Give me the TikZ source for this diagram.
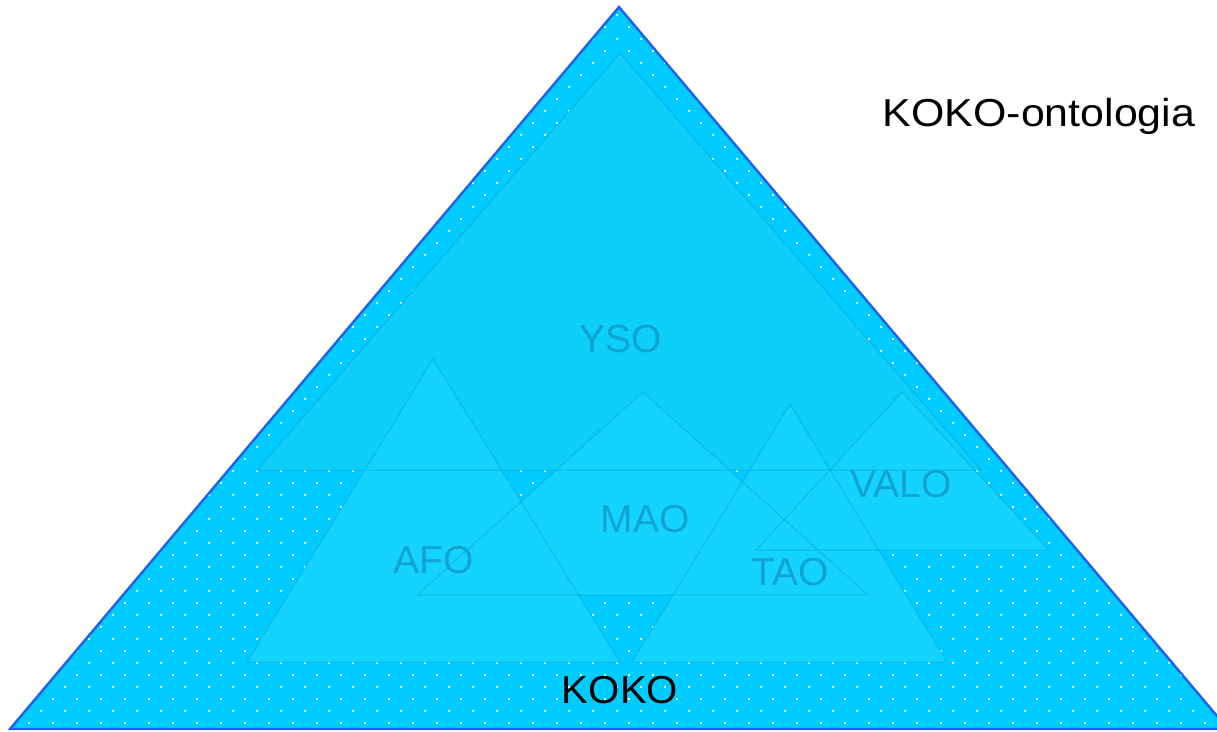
\documentclass[tikz,border=0pt]{standalone}
\usepackage{fontspec}
\setmainfont{Liberation Sans}
\definecolor{kokofill}{HTML}{00CCFF}
\definecolor{kokoline}{HTML}{2060F0}
\definecolor{ysofill}{HTML}{0ECEFA}
\definecolor{subfill}{HTML}{14D4FF}
\definecolor{subline}{HTML}{0AA4D6}
\definecolor{sublabel}{HTML}{129FCC}
\tikzset{
  subfillst/.style={fill=subfill},
  subedge/.style={draw=subline, draw opacity=0.6, line width=1pt, line join=miter},
  sublbl/.style={anchor=base, inner sep=0pt, text=sublabel, text opacity=0.9, font=\fontsize{39}{40}\selectfont},
  mainlbl/.style={anchor=base, inner sep=0pt, text=black, font=\fontsize{39}{40}\selectfont}
}
\begin{document}
\begin{tikzpicture}[x=1pt,y=-1pt]
\useasboundingbox (0,0) rectangle (1217,731);
\clip (0,0) rectangle (1217,731);
% outer KOKO triangle
\fill[kokofill] (619,7) -- (10,729) -- (1228,729) -- cycle;
\begin{scope}
\clip (619,7) -- (10,729) -- (1228,729) -- cycle;
\foreach \k in {0,...,59}{
  \pgfmathsetmacro\yy{14.6+12*\k}
  \pgfmathsetmacro\xo{mod(616.6+12*\k,24)}
  \foreach \m in {0,...,51}{
    \fill[white] (\xo+24*\m-1,\yy-1) rectangle +(2,2);
  }
}
\end{scope}
\draw[kokoline, line width=2.4pt, line join=miter] (619,7) -- (10,729) -- (1228,729) -- cycle;
% sub-ontologies: fills
\fill[ysofill] (620,53) -- (257,470) -- (981,470) -- cycle;
\fill[subfillst] (433,359) -- (247,662) -- (620,662) -- cycle;
\fill[subfillst] (643,392) -- (417,595) -- (868,595) -- cycle;
\fill[subfillst] (790,404) -- (632,662) -- (947,662) -- cycle;
\fill[subfillst] (902,392) -- (756,550) -- (1049,550) -- cycle;
% sub-ontologies: outlines
\draw[subedge] (620,53) -- (257,470) -- (981,470) -- cycle;
\draw[subedge] (433,359) -- (247,662) -- (620,662) -- cycle;
\draw[subedge] (643,392) -- (417,595) -- (868,595) -- cycle;
\draw[subedge] (790,404) -- (632,662) -- (947,662) -- cycle;
\draw[subedge] (902,392) -- (756,550) -- (1049,550) -- cycle;
% labels
\node[sublbl] (yso) at (621,352) {YSO};
\node[sublbl] (afo) at (434,573) {AFO};
\node[sublbl] (mao) at (645,532) {MAO};
\node[sublbl] (tao) at (790,585) {TAO};
\node[sublbl] (valo) at (901,497) {VALO};
\node[mainlbl] (koko) at (620,703) {\scalebox{1.03}[1]{KOKO}};
\node[mainlbl] (title) at (1039,126) {\scalebox{1.1}[1]{KOKO-ontologia}};
\end{tikzpicture}
\end{document}
